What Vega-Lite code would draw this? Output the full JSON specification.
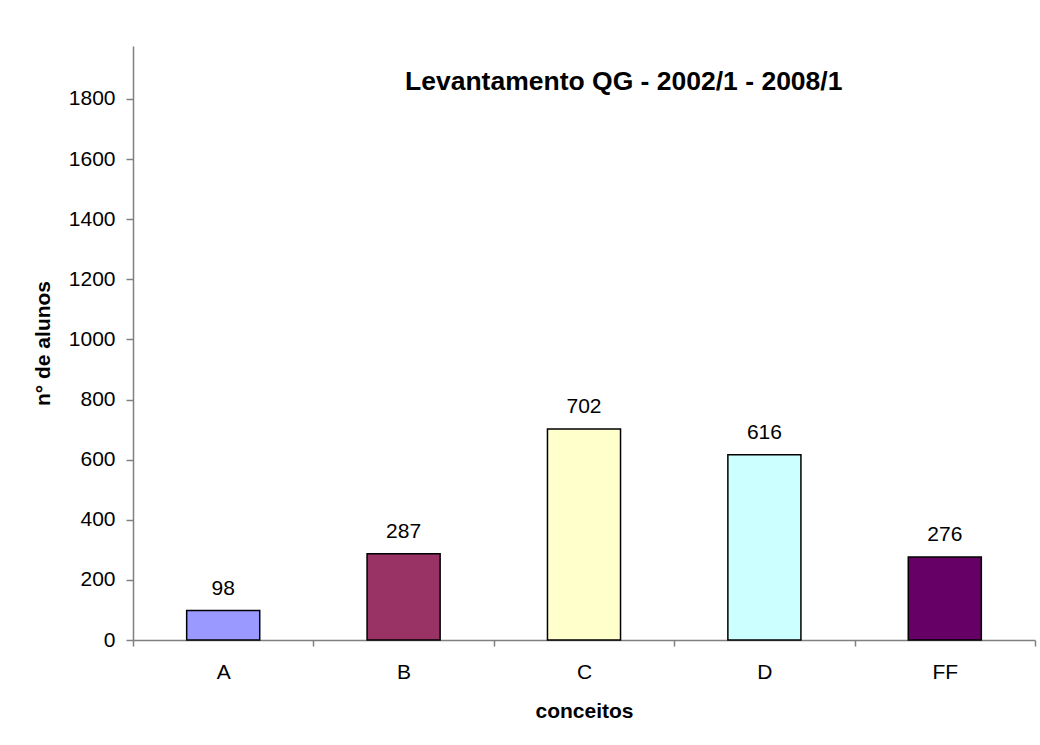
{
  "$schema": "https://vega.github.io/schema/vega-lite/v6.json",
  "width": 902,
  "height": 594,
  "autosize": {"type": "none"},
  "padding": {"left": 133, "top": 46, "right": 5, "bottom": 105},
  "background": "white",
  "config": {
    "view": {"stroke": null},
    "font": "Liberation Sans"
  },
  "title": {
    "text": "Levantamento QG - 2002/1 - 2008/1",
    "anchor": "start",
    "frame": "group",
    "orient": "top",
    "offset": 0,
    "baseline": "alphabetic",
    "dx": 272,
    "dy": 70,
    "font": "Liberation Sans",
    "fontSize": 26.5,
    "fontWeight": "bold",
    "color": "black"
  },
  "data": {
    "values": [
      {"conceito": "A", "alunos": 98},
      {"conceito": "B", "alunos": 287},
      {"conceito": "C", "alunos": 702},
      {"conceito": "D", "alunos": 616},
      {"conceito": "FF", "alunos": 276}
    ]
  },
  "encoding": {
    "x": {
      "field": "conceito",
      "type": "nominal",
      "sort": null,
      "scale": {"paddingInner": 0, "paddingOuter": 0},
      "axis": {
        "title": "conceitos",
        "titleFont": "Liberation Sans",
        "titleFontSize": 21,
        "titleFontWeight": "bold",
        "titleColor": "black",
        "titlePadding": 18,
        "labelAngle": 0,
        "labelFont": "Liberation Sans",
        "labelFontSize": 21,
        "labelColor": "black",
        "labelPadding": 15,
        "tickBand": "extent",
        "tickSize": 6,
        "tickColor": "#808080",
        "domainColor": "#808080",
        "domainWidth": 1.5,
        "tickWidth": 1.5
      }
    },
    "y": {
      "field": "alunos",
      "type": "quantitative",
      "scale": {"domain": [0, 1976], "nice": false},
      "axis": {
        "title": "n° de alunos",
        "titleFont": "Liberation Sans",
        "titleFontSize": 21,
        "titleFontWeight": "bold",
        "titleColor": "black",
        "titlePadding": 15,
        "values": [0, 200, 400, 600, 800, 1000, 1200, 1400, 1600, 1800],
        "format": "d",
        "labelFont": "Liberation Sans",
        "labelFontSize": 21,
        "labelColor": "black",
        "labelPadding": 11,
        "tickSize": 7,
        "tickColor": "#808080",
        "domainColor": "#808080",
        "domainWidth": 1.5,
        "tickWidth": 1.5,
        "grid": false
      }
    }
  },
  "layer": [
    {
      "mark": {"type": "bar", "stroke": "black", "strokeWidth": 1.5, "width": {"band": 0.405}},
      "encoding": {
        "color": {
          "field": "conceito",
          "type": "nominal",
          "scale": {
            "domain": ["A", "B", "C", "D", "FF"],
            "range": ["#9999FF", "#993366", "#FFFFCC", "#CCFFFF", "#660066"]
          },
          "legend": null
        }
      }
    },
    {
      "mark": {
        "type": "text",
        "baseline": "alphabetic",
        "dy": -16,
        "font": "Liberation Sans",
        "fontSize": 21,
        "color": "black"
      },
      "encoding": {
        "text": {"field": "alunos", "type": "quantitative"}
      }
    }
  ]
}
